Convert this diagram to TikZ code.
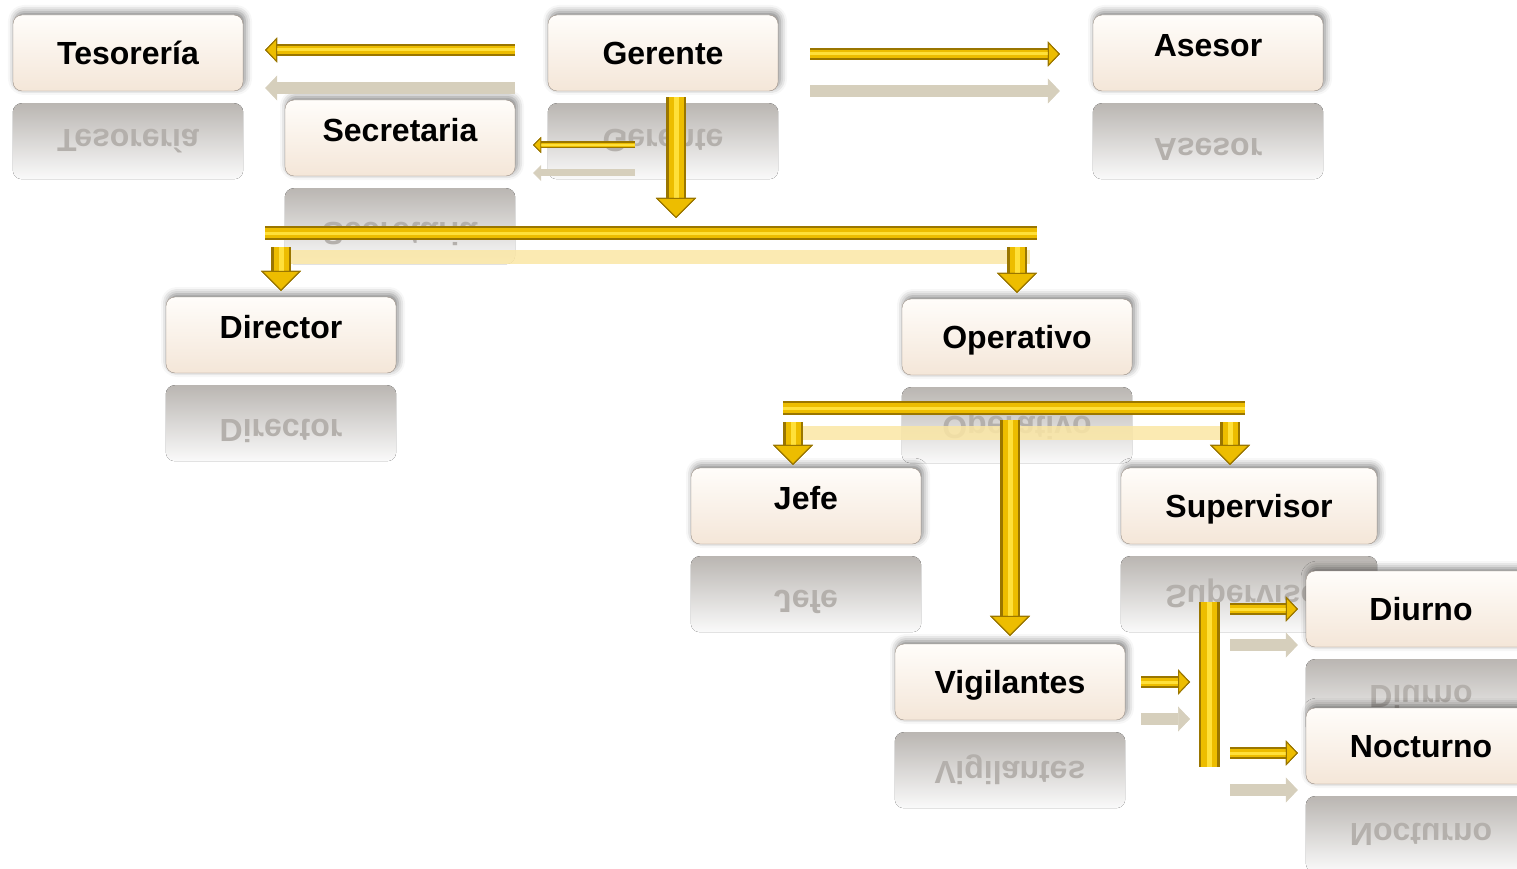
\documentclass[tikz,border=0pt]{standalone}
\usepackage{fontspec}
\setmainfont{Liberation Sans}
\usepackage{graphicx}
\usepackage{tikz}
\usetikzlibrary{arrows.meta}
\usetikzlibrary{shadows.blur}
\pgfdeclarelayer{background}
\pgfsetlayers{background,main}
\definecolor{boxtop}{HTML}{FFFDFA}
\definecolor{boxbottom}{HTML}{F4E6D8}
\definecolor{boxedge}{HTML}{9A8E84}
\definecolor{goldmain}{HTML}{EDBD00}
\definecolor{goldedge}{HTML}{9A7600}
\definecolor{goldlight}{HTML}{FFE03A}
\definecolor{reflarrow}{HTML}{D6CFBC}
\definecolor{reflgold}{HTML}{FAE6A4}
\definecolor{reflgray}{HTML}{BAB6B2}
\definecolor{refltextc}{HTML}{B4B0AC}
\newcommand\myreflectiondrop{88pt}

\begin{document}
\begin{tikzpicture}[
    x=1pt, y=-1pt,
    bigtip/.tip = {Triangle[width=40pt, length=20pt, line width=1pt, fill=goldmain, color=goldedge]},
    thintip/.tip = {Triangle[width=25pt, length=12pt, line width=1pt, fill=goldmain, color=goldedge]},
    tinytip/.tip = {Triangle[width=16pt, length=8pt, line width=0.8pt, fill=goldmain, color=goldedge]},
    box/.style = {
        rectangle,
        rounded corners=9pt,
        minimum width=230pt,
        minimum height=76pt,
        text height=23pt,
        text depth=0pt,
        draw=boxedge,
        top color=boxtop,
        bottom color=boxbottom,
        font=\bfseries\fontsize{32}{36}\selectfont,
        blur shadow={shadow xshift=2pt, shadow yshift=3pt, shadow blur radius=7pt, shadow opacity=50},
      },
    raised/.style = {text depth=16pt},
    reflbox/.style = {
        rounded corners=9pt,
        top color=reflgray,
        bottom color=white!96!gray,
      },
    refltext/.style = {
        text=refltextc,
        font=\bfseries\fontsize{32}{36}\selectfont,
      },
    bigarrow/.style = {
        draw=goldedge, line width=20pt, -bigtip,
        postaction={draw=goldmain, line width=15pt},
        postaction={draw=goldlight, line width=5pt},
      },
    thinarrow/.style = {
        draw=goldedge, line width=12pt, -thintip,
        postaction={draw=goldmain, line width=8pt},
        postaction={draw=goldlight, line width=3pt},
      },
    tinyarrow/.style = {
        draw=goldedge, line width=7pt, -tinytip,
        postaction={draw=goldmain, line width=4.5pt},
        postaction={draw=goldlight, line width=1.5pt},
      },
    thinrefl/.style = {
        draw=reflarrow, line width=12pt,
        -{Triangle[width=25pt, length=12pt, line width=0.5pt]},
      },
    tinyrefl/.style = {
        draw=reflarrow, line width=7pt,
        -{Triangle[width=16pt, length=8pt, line width=0.5pt]},
      },
    goldbar/.style = {
        draw=goldedge, line width=14pt,
        postaction={draw=goldmain, line width=10pt},
        postaction={draw=goldlight, line width=3pt},
      },
    widebar/.style = {
        draw=goldedge, line width=21pt,
        postaction={draw=goldmain, line width=16pt},
        postaction={draw=goldlight, line width=5pt},
      },
    reflbar/.style = {draw=reflgold, line width=14pt, opacity=0.85},
    ]
    \useasboundingbox (0,0) rectangle (1517,869);
    \clip (0,0) rectangle (1517,869);

    \node (tesoreria) [box] at (128,53) {Tesorería};
    \node (gerente) [box] at (663,53) {Gerente};
    \node (asesor) [box, raised] at (1208,53) {Asesor};
    \node (secretaria) [box, raised] at (400,138) {Secretaria};
    \node (director) [box, raised] at (281,335) {Director};
    \node (operativo) [box] at (1017,337) {Operativo};
    \node (jefe) [box, raised] at (806,506) {Jefe};
    \node (supervisor) [box, minimum width=256pt] at (1249,506) {Supervisor};
    \node (vigilantes) [box] at (1010,682) {Vigilantes};
    \node (diurno) [box] at (1421,609) {Diurno};
    \node (nocturno) [box] at (1421,746) {Nocturno};

    \coordinate (g down) at ([xshift=13pt]gerente.south);
    \coordinate (sec in) at ([yshift=-7pt]secretaria.east);
    \coordinate (sec refl) at ([yshift=-35pt]secretaria.east);
    \coordinate (bar1 w) at (265,233);
    \coordinate (bar1 e) at (1037,233);
    \coordinate (bar2 w) at (783,408);
    \coordinate (bar2 e) at (1245,408);
    \coordinate (bar3 n) at (1209,602);
    \coordinate (bar3 s) at (1209,767);
    \coordinate (jefe in) at ([xshift=-13pt]jefe.north);
    \coordinate (sup in) at ([xshift=-19pt]supervisor.north);
    \coordinate (vig refl) at ([yshift=-37pt]vigilantes.east);
    \coordinate (diu refl) at ([yshift=-36pt]diurno.west);
    \coordinate (noc in) at ([yshift=-7pt]nocturno.west);
    \coordinate (noc refl) at ([yshift=-44pt]nocturno.west);

    % mirrored boxes under every node
    \begin{pgfonlayer}{background}
      \foreach \n/\t/\s in {tesoreria/Tesorería/0, gerente/Gerente/0, asesor/Asesor/8,
          secretaria/Secretaria/8, director/Director/8, operativo/Operativo/0, jefe/Jefe/8,
          supervisor/Supervisor/0, vigilantes/Vigilantes/0, diurno/Diurno/0, nocturno/Nocturno/0} {
        \fill [reflbox] ([yshift=-12pt]\n.south west) rectangle ([yshift=-\myreflectiondrop]\n.south east);
        \node [refltext] at ([yshift={-\myreflectiondrop-\s*1pt}]\n.center) {\scalebox{1}[-1]{\t}};
      }
    \end{pgfonlayer}

    \draw [thinrefl, shorten <=33pt, shorten >=22pt] ([yshift=-35pt]gerente.west) -- ([yshift=-35pt]tesoreria.east);
    \draw [thinrefl, shorten <=32pt, shorten >=33pt] ([yshift=-38pt]gerente.east) -- ([yshift=-38pt]asesor.west);
    \draw [tinyrefl, shorten <=41pt, shorten >=18pt] (g down |- sec refl) -- (sec refl);
    \draw [thinrefl, shorten <=16pt, shorten >=19pt] (vig refl) -- (vig refl -| bar3 n);
    \draw [thinrefl, shorten <=21pt, shorten >=8pt] (diu refl -| bar3 n) -- (diu refl);
    \draw [thinrefl, shorten <=21pt, shorten >=8pt] (noc refl -| bar3 n) -- (noc refl);
    \draw [reflbar] ([xshift=25pt, yshift=-24pt]bar1 w) -- ([xshift=-7pt, yshift=-24pt]bar1 e);
    \draw [reflbar] ([xshift=17pt, yshift=-25pt]bar2 w) -- ([xshift=-5pt, yshift=-25pt]bar2 e);

    \draw [thinarrow, shorten <=33pt, shorten >=22pt] ([yshift=3pt]gerente.west) -- ([yshift=3pt]tesoreria.east);
    \draw [thinarrow, shorten <=32pt, shorten >=33pt] ([yshift=-1pt]gerente.east) -- ([yshift=-1pt]asesor.west);
    \draw [tinyarrow, shorten <=41pt, shorten >=18pt] (g down |- sec in) -- (sec in);
    \draw [bigarrow, shorten <=6pt, shorten >=15pt] (g down) -- (g down |- bar1 w);

    \draw [goldbar] (bar1 w) -- (bar1 e);
    \draw [bigarrow, shorten <=14pt, shorten >=6pt] (bar1 w -| director) -- (director);
    \draw [bigarrow, shorten <=14pt, shorten >=6pt] (bar1 w -| operativo) -- (operativo);

    \draw [goldbar] (bar2 w) -- (bar2 e);
    \draw [bigarrow, shorten <=14pt, shorten >=3pt] (bar2 w -| jefe in) -- (jefe in);
    \draw [bigarrow, shorten <=14pt, shorten >=3pt] (bar2 w -| sup in) -- (sup in);
    \draw [bigarrow, shorten <=12pt, shorten >=8pt] (bar2 w -| vigilantes) -- (vigilantes);

    \draw [thinarrow, shorten <=16pt, shorten >=19pt] (vigilantes.east) -- (vigilantes.east -| bar3 n);
    \draw [widebar] (bar3 n) -- (bar3 s);
    \draw [thinarrow, shorten <=21pt, shorten >=8pt] (diurno.west -| bar3 n) -- (diurno.west);
    \draw [thinarrow, shorten <=21pt, shorten >=8pt] (noc in -| bar3 n) -- (noc in);
  \end{tikzpicture}
\end{document}
